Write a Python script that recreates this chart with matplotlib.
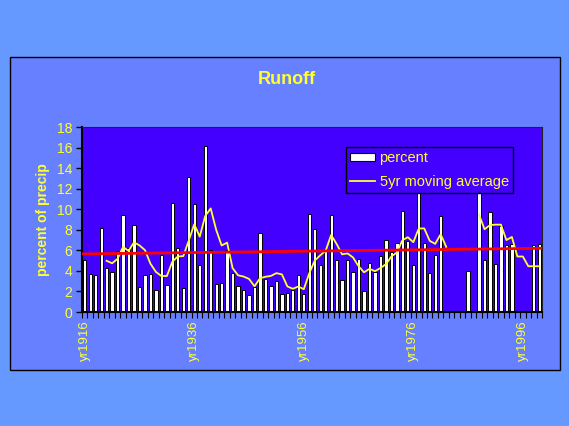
import numpy as np
import matplotlib
matplotlib.use("Agg")
import matplotlib.pyplot as plt
from matplotlib.patches import Rectangle
from matplotlib.lines import Line2D

nan = np.nan
years = list(range(1916, 2000))
percent = [5.1, 3.7, 3.6, 8.2, 4.3, 3.9, 5.9, 9.4, 6.2, 8.5,
           2.4, 3.6, 3.7, 2.1, 5.5, 2.6, 10.6, 6.2, 2.3, 13.1,
           10.5, 4.6, 16.2, 6.0, 2.7, 2.85, 6.0, 3.8, 2.5, 2.1,
           1.7, 2.4, 7.7, 3.25, 2.5, 3.05, 1.8, 1.85, 2.1, 3.6,
           1.75, 9.5, 8.1, 4.6, 5.9, 9.4, 5.05, 3.1, 5.05, 3.9,
           5.2, 2.05, 4.8, 3.9, 5.45, 7.05, 5.8, 6.75, 9.85, 6.95,
           4.6, 12.5, 6.75, 3.8, 5.5, 9.3, nan, nan, nan, nan,
           4.0, nan, 15.0, 5.05, 9.7, 4.65, 8.4, 6.5, 6.6, nan,
           nan, nan, 6.5, 6.6]
moving_avg = [nan, nan, nan, nan, 4.98, 4.74, 5.18, 6.34, 5.94, 6.78,
              6.48, 6.02, 4.7, 3.9, 3.5, 3.5, 4.9, 5.4, 5.44, 6.96,
              8.54, 7.34, 9.34, 10.08, 8.0, 6.47, 6.75, 4.27, 3.57, 3.45,
              3.22, 2.5, 3.28, 3.43, 3.51, 3.78, 3.66, 2.49, 2.26, 2.48,
              2.22, 3.76, 5.01, 5.51, 5.97, 7.5, 6.61, 5.61, 5.7, 5.3,
              4.46, 3.86, 4.2, 3.97, 4.28, 4.65, 5.4, 5.79, 6.98, 7.28,
              6.79, 8.13, 8.13, 6.92, 6.63, 7.57, 6.34, nan, nan, nan,
              nan, nan, 9.5, 8.05, 8.45, 8.5, 8.5, 7.0, 7.3, 5.4,
              5.4, 4.45, 4.45, 4.45]
trend_start, trend_end = 5.65, 6.2
tick_years = [1916, 1936, 1956, 1976, 1996]
yticks = list(range(0, 19, 2))

YELLOW = "#FFFF33"
OUTER = "#6699FF"
PANEL = "#6680FF"
PLOT = "#4400FF"

plt.rcParams['font.family'] = ['Liberation Sans', 'DejaVu Sans']

fig = plt.figure(figsize=(5.69, 4.26), dpi=100)
fig.patch.set_facecolor(OUTER)
W, H = 569, 426
fig.patches.append(Rectangle((10 / W, 1 - 370 / H), 550 / W, 313 / H,
                             transform=fig.transFigure, facecolor=PANEL,
                             edgecolor="black", linewidth=1.0, zorder=-5))

ax = fig.add_axes([82 / W, 1 - 312 / H, 460 / W, 185 / H])
ax.set_zorder(2)
ax.set_facecolor(PLOT)
x = np.arange(len(years))
ax.bar(x, percent, width=0.6, color="white", edgecolor="black", linewidth=0.7,
       zorder=2, label="percent")
ax.plot(x, moving_avg, color=YELLOW, linewidth=1.3, zorder=3,
        label="5yr moving average")
ax.plot([x[0] - 0.5, x[-1] + 0.5], [trend_start, trend_end], color="#FF0000",
        linewidth=2.0, zorder=4)

ax.set_xlim(-0.5, len(years) - 0.5)
ax.set_ylim(0, 18)
ax.set_yticks(yticks)
ax.set_yticklabels([str(v) for v in yticks], color=YELLOW, fontsize=10)
ax.set_xticks([years.index(y) for y in tick_years])
ax.set_xticklabels([f"yr{y}" for y in tick_years], rotation=90, color=YELLOW,
                   fontsize=9.5)
ax.set_xticks(np.arange(-0.5, len(years), 1), minor=True)
ax.tick_params(axis='x', which='major', length=0, pad=6)
ax.tick_params(axis='x', which='minor', length=4, width=0.8, color="black",
               direction='out')
ax.tick_params(axis='y', length=4, width=1.0, color="black", pad=3)
for s in ["left", "bottom"]:
    ax.spines[s].set_linewidth(1.5)
    ax.spines[s].set_color("black")
for s in ["top", "right"]:
    ax.spines[s].set_linewidth(0.8)
    ax.spines[s].set_color("#222222")

ax.set_ylabel("percent of precip", color=YELLOW, fontsize=10, fontweight="bold",
              labelpad=5)
fig.text(287 / W, 1 - 79 / H, "Runoff", color=YELLOW, fontsize=13,
         fontweight="bold", ha="center", va="center")

handles = [Rectangle((0, 0), 1, 1, facecolor="white", edgecolor="black", linewidth=0.8),
           Line2D([0], [0], color=YELLOW, linewidth=1.3)]
leg = ax.legend(handles, ["percent", "5yr moving average"],
                loc="upper left", bbox_to_anchor=((346 - 82) / 460, (312 - 147) / 185),
                frameon=True, fancybox=False, facecolor=PLOT, edgecolor="black",
                framealpha=1, fontsize=10.5, labelcolor=YELLOW, handlelength=1.7,
                handleheight=0.5, borderpad=0.3, labelspacing=0.65,
                handletextpad=0.3, borderaxespad=0)
leg.get_frame().set_linewidth(1.0)
leg.set_zorder(10)

fig.savefig("out.png", dpi=100, facecolor=fig.get_facecolor())
